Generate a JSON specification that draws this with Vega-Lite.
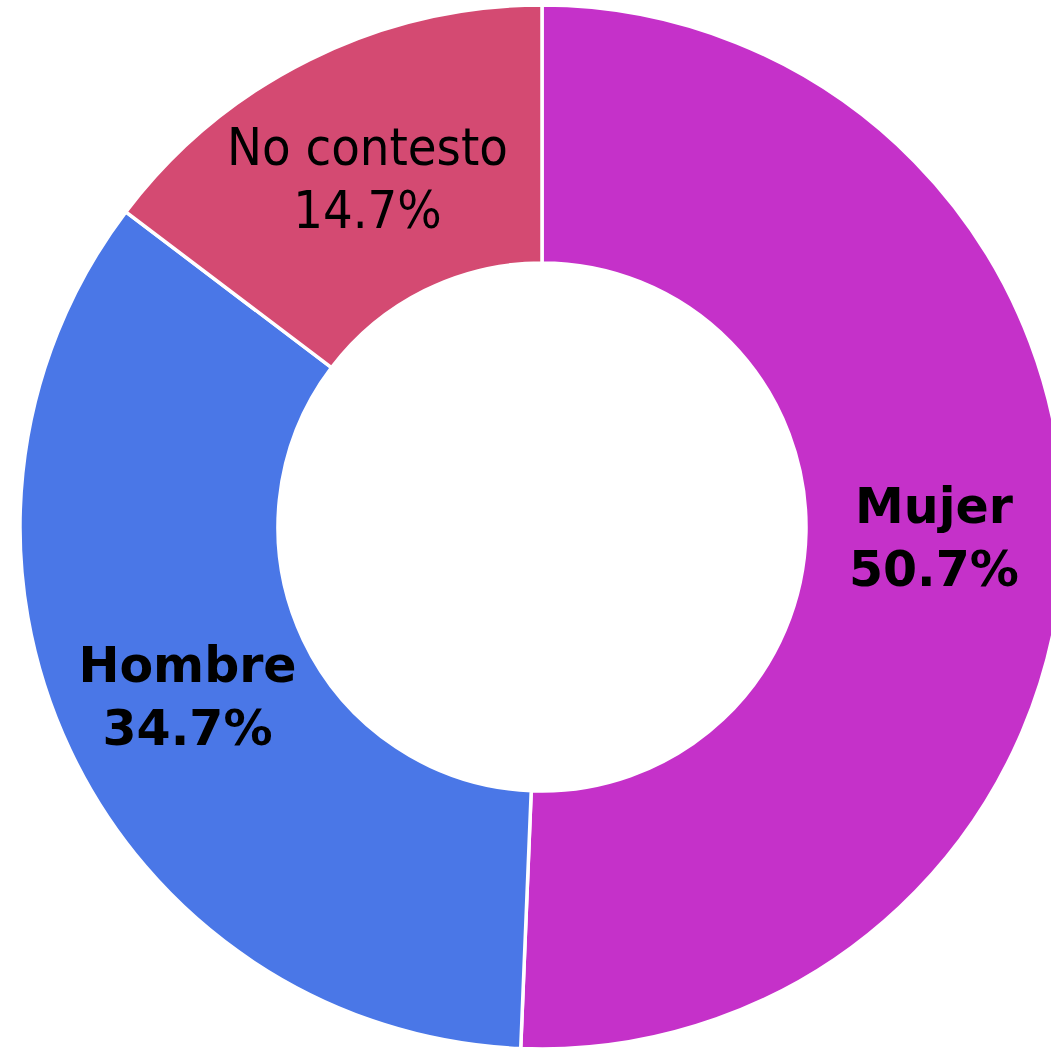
{
  "$schema": "https://vega.github.io/schema/vega-lite/v6.json",
  "autosize": "none",
  "width": 1018,
  "height": 1042,
  "padding": {"left": 33, "top": 6, "right": 0, "bottom": 0},
  "background": "white",
  "data": {"values": [
    {"categoria": "Mujer", "pct": 50.7, "orden": 1},
    {"categoria": "Hombre", "pct": 34.7, "orden": 2},
    {"categoria": "No contesto", "pct": 14.7, "orden": 3}
  ]},
  "transform": [{"calculate": "datum.categoria + '\\n' + format(datum.pct, '.1f') + '%'", "as": "lbl"}],
  "encoding": {
    "theta": {"field": "pct", "type": "quantitative", "stack": true},
    "order": {"field": "orden", "type": "quantitative"},
    "color": {"field": "categoria", "type": "nominal", "legend": null,
      "scale": {"domain": ["Mujer", "Hombre", "No contesto"], "range": ["#C531C9", "#4A77E7", "#D44A72"]}}
  },
  "layer": [
    {"mark": {"type": "arc", "outerRadius": 522, "innerRadius": 264, "stroke": "white", "strokeWidth": 3.5}},
    {"mark": {"type": "text", "radius": 392, "dy": -27, "font": "DejaVu Sans", "fontSize": 49, "fontWeight": "bold", "lineBreak": "\n", "lineHeight": 63, "baseline": "middle"},
     "encoding": {"text": {"condition": {"test": "datum.categoria === 'No contesto'", "value": ""}, "field": "lbl"}, "color": {"value": "black"}}},
    {"mark": {"type": "text", "radius": 392, "dy": -27, "font": "DejaVu Sans Condensed", "fontSize": 52, "fontWeight": "normal", "lineBreak": "\n", "lineHeight": 63, "baseline": "middle"},
     "encoding": {"text": {"condition": {"test": "datum.categoria !== 'No contesto'", "value": ""}, "field": "lbl"}, "color": {"value": "black"}}}
  ]
}
